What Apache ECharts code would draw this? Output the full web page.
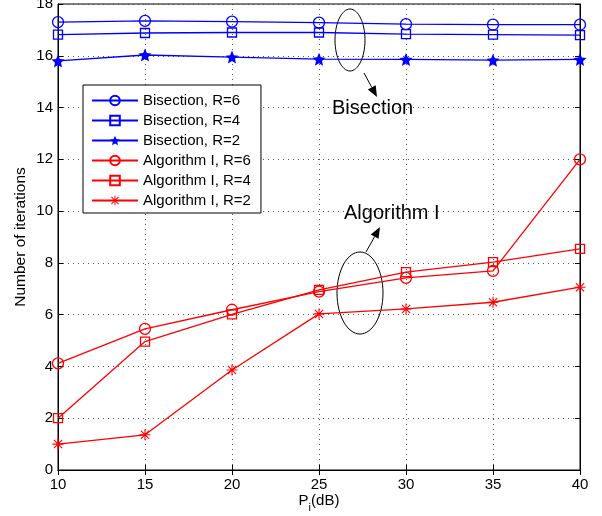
<!DOCTYPE html>
<html>
<head>
<meta charset="utf-8">
<script src="https://cdn.jsdelivr.net/npm/echarts@6/dist/echarts.min.js"></script>
<style>
  html, body { margin: 0; padding: 0; background: #fff; }
  #main { width: 602px; height: 516px; }
</style>
</head>
<body>
<div id="main"></div>
<script>
  // x axis: P_i (dB)
  var powers = [10, 15, 20, 25, 30, 35, 40];
  var xTicks = [10, 15, 20, 25, 30, 35, 40];
  var yTicks = [0, 2, 4, 6, 8, 10, 12, 14, 16, 18];

  // Bisection
  var bisR6 = [17.30, 17.35, 17.32, 17.28, 17.22, 17.20, 17.20];
  var bisR4 = [16.82, 16.88, 16.90, 16.90, 16.84, 16.82, 16.80];
  var bisR2 = [15.80, 16.03, 15.95, 15.87, 15.86, 15.83, 15.86];

  // Algorithm I
  var algR6 = [4.12, 5.45, 6.19, 6.89, 7.42, 7.69, 12.0];
  var algR4 = [2.00, 4.96, 6.01, 6.96, 7.64, 8.03, 8.54];
  var algR2 = [1.00, 1.36, 3.86, 6.03, 6.22, 6.48, 7.06];

  var BLUE = '#0000ff';
  var RED = '#ff0000';
  var FONT = '"Liberation Sans", Arial, sans-serif';

  // asterisk marker (filled thin bars)
  var asterisk = 'path://M0 9L20 9L20 11L0 11Z M9 0L11 0L11 20L9 20Z ' +
    'M1.8 3.2L3.2 1.8L18.2 16.8L16.8 18.2Z M16.8 1.8L18.2 3.2L3.2 18.2L1.8 16.8Z';
  var star = 'path://M10 0L12.9 6.9L20 7.6L14.6 12.4L16.2 19.5L10 15.8L3.8 19.5L5.4 12.4L0 7.6L7.1 6.9Z';

  function pairs(vals) {
    return vals.map(function (v, i) { return [powers[i], v]; });
  }

  function mkSeries(name, vals, color, symbol, size, hollow) {
    return {
      name: name,
      type: 'line',
      data: pairs(vals),
      symbol: symbol,
      symbolSize: size,
      showAllSymbol: true,
      animation: false,
      lineStyle: { color: color, width: 1.3 },
      itemStyle: hollow
        ? { color: 'rgba(255,255,255,0)', borderColor: color, borderWidth: 1.3 }
        : { color: color, borderColor: color, borderWidth: 0 },
      emphasis: { disabled: true }
    };
  }

  function arrow(x1, y1, x2, y2) {
    var dx = x2 - x1, dy = y2 - y1;
    var len = Math.sqrt(dx * dx + dy * dy);
    var ux = dx / len, uy = dy / len;
    var hl = 11, hw = 4.5;
    var bx = x2 - ux * hl, by = y2 - uy * hl;
    return [
      { type: 'line', shape: { x1: x1, y1: y1, x2: bx, y2: by },
        style: { stroke: '#000', lineWidth: 1 } },
      { type: 'polygon', shape: { points: [[x2, y2], [bx - uy * hw, by + ux * hw], [bx + uy * hw, by - ux * hw]] },
        style: { fill: '#000' } }
    ];
  }

  var chart = echarts.init(document.getElementById('main'), null, { renderer: 'canvas' });

  var option = {
    backgroundColor: '#fff',
    animation: false,
    textStyle: { fontFamily: FONT },
    grid: {
      left: 58, right: 22, top: 4, bottom: 46,
      outerBoundsMode: 'none',
      containLabel: false,
      show: true, borderColor: '#000', borderWidth: 1
    },
    legend: {
      orient: 'vertical',
      left: 83,
      top: 85,
      width: 177,
      padding: [8, 10, 5, 8],
      itemGap: 5,
      itemWidth: 46,
      itemHeight: 12,
      backgroundColor: '#fff',
      borderColor: '#000',
      borderWidth: 1,
      textStyle: { fontFamily: FONT, fontSize: 15, color: '#000' },
      selectedMode: false,
      data: ['Bisection, R=6', 'Bisection, R=4', 'Bisection, R=2',
             'Algorithm I, R=6', 'Algorithm I, R=4', 'Algorithm I, R=2']
    },
    xAxis: [{
      type: 'value',
      min: 10, max: 40, interval: 5,
      position: 'bottom',
      name: '{a|P}{s|i}{a|(dB)}',
      nameLocation: 'middle',
      nameMoveOverlap: false,
      nameGap: 19,
      nameTextStyle: {
        rich: {
          a: { fontFamily: FONT, fontSize: 15, color: '#000', lineHeight: 24, verticalAlign: 'middle' },
          s: { fontFamily: FONT, fontSize: 11, color: '#000', lineHeight: 10, verticalAlign: 'bottom' }
        }
      },
      axisLine: { lineStyle: { color: '#000', width: 1 } },
      axisTick: { inside: true, length: 5, lineStyle: { color: '#000' } },
      axisLabel: {
        margin: 7, color: '#000', fontSize: 15, fontFamily: FONT,
        formatter: function (v) { return xTicks.indexOf(v) >= 0 ? String(v) : ''; }
      },
      splitLine: { show: true, lineStyle: { color: '#555', type: [1, 4], width: 1 } }
    }, {
      type: 'value',
      min: 10, max: 40, interval: 5,
      position: 'top',
      axisLine: { show: true, lineStyle: { color: '#000' } },
      axisTick: { inside: true, length: 5, lineStyle: { color: '#000' } },
      axisLabel: { show: false },
      splitLine: { show: false }
    }],
    yAxis: [{
      type: 'value',
      min: 0, max: 18, interval: 2,
      position: 'left',
      name: 'Number of iterations',
      nameLocation: 'middle',
      nameMoveOverlap: false,
      nameGap: 29,
      nameTextStyle: { fontFamily: FONT, fontSize: 15.5, color: '#000' },
      axisLine: { show: true, lineStyle: { color: '#000', width: 1 } },
      axisTick: { show: true, inside: true, length: 5, lineStyle: { color: '#000' } },
      axisLabel: {
        margin: 5, color: '#000', fontSize: 15, fontFamily: FONT,
        formatter: function (v) { return yTicks.indexOf(v) >= 0 ? String(v) : ''; }
      },
      splitLine: { show: true, lineStyle: { color: '#555', type: [1, 4], width: 1 } }
    }, {
      type: 'value',
      min: 0, max: 18, interval: 2,
      position: 'right',
      axisLine: { show: true, lineStyle: { color: '#000' } },
      axisTick: { show: true, inside: true, length: 5, lineStyle: { color: '#000' } },
      axisLabel: { show: false },
      splitLine: { show: false }
    }],
    series: [
      mkSeries('Bisection, R=6', bisR6, BLUE, 'circle', 11, true),
      mkSeries('Bisection, R=4', bisR4, BLUE, 'rect', 9, true),
      mkSeries('Bisection, R=2', bisR2, BLUE, star, 13, false),
      mkSeries('Algorithm I, R=6', algR6, RED, 'circle', 11, true),
      mkSeries('Algorithm I, R=4', algR4, RED, 'rect', 9, true),
      mkSeries('Algorithm I, R=2', algR2, RED, asterisk, 11, false)
    ],
    graphic: [].concat(
      [{ type: 'ellipse', shape: { cx: 350, cy: 40, rx: 15, ry: 31 },
         style: { fill: 'none', stroke: '#000', lineWidth: 1 } }],
      arrow(364, 73, 377, 97),
      [{ type: 'text', left: 332, top: 98,
         style: { text: 'Bisection', fontFamily: FONT, fontSize: 20, fill: '#000' } }],
      [{ type: 'ellipse', shape: { cx: 360, cy: 293, rx: 23, ry: 41 },
         style: { fill: 'none', stroke: '#000', lineWidth: 1 } }],
      arrow(366, 252, 380, 227),
      [{ type: 'text', left: 344, top: 203,
         style: { text: 'Algorithm I', fontFamily: FONT, fontSize: 20, fill: '#000' } }]
    )
  };

  chart.setOption(option);
</script>
</body>
</html>
